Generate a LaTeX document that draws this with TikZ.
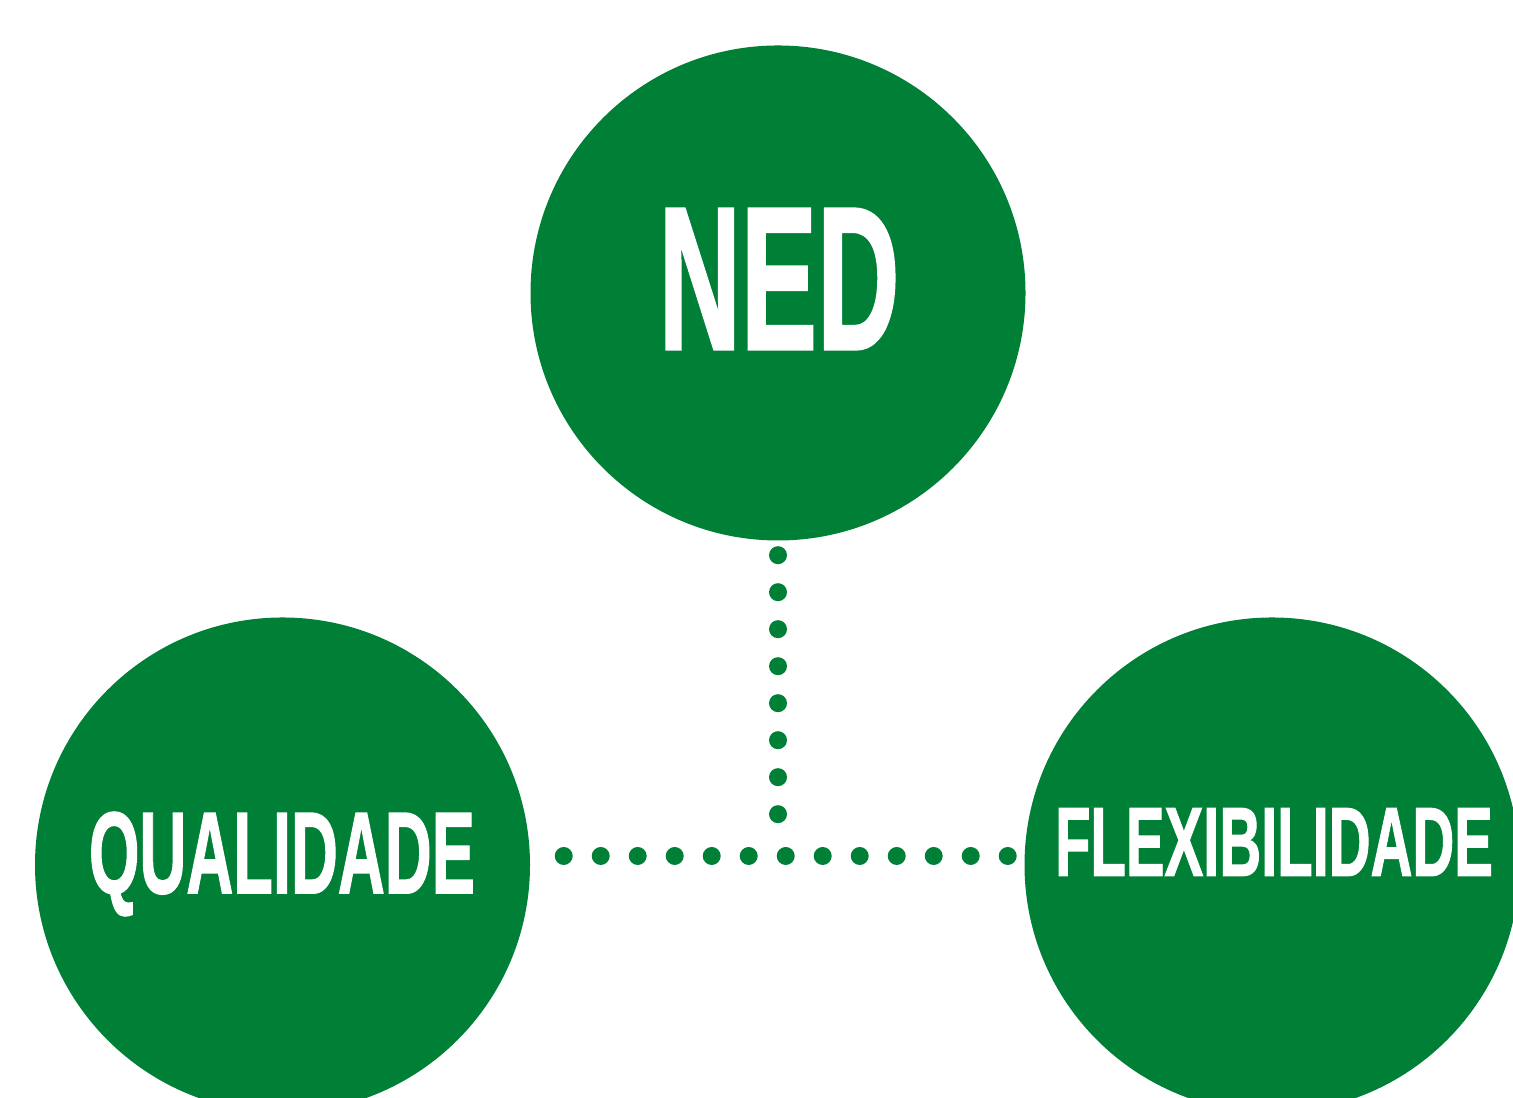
\documentclass[tikz,border=0pt]{standalone}
\usepackage{fontspec}
\setmainfont[BoldFeatures={FakeBold=1.5}]{Liberation Sans}
\definecolor{nedgreen}{HTML}{008037}
\newcommand{\cond}[2][0.56]{\scalebox{#1}[1]{#2}}
\begin{document}
\begin{tikzpicture}[
  main node/.style={circle,fill=nedgreen,minimum size=4.95cm,inner sep=0pt},
  word/.style={text=white,font=\bfseries,inner sep=0pt},
  dot line/.style={nedgreen,line width=0.18cm,line cap=round,dash pattern=on 0pt off 0.37cm}]

  \useasboundingbox (0,0) rectangle (15.13,10.98);
  \clip (0,0) rectangle (15.13,10.98);

  \node[main node] (ned) at (7.78,8.05) {};
  \node[main node] (qual) at (2.825,2.33) {};
  \node[main node] (flex) at (12.72,2.33) {};

  \node[word,font=\bfseries\fontsize{58pt}{58pt}\selectfont] (nedtext) at (7.79,8.19) {\cond{NED}};
  \node[word,font=\bfseries\fontsize{33pt}{33pt}\selectfont] (qualtext) at (2.82,2.34) {\cond{QUALIDADE}};
  \node[word,font=\bfseries\fontsize{27.8pt}{27.8pt}\selectfont] (flextext) at (12.74,2.56) {\cond[0.593]{FLEXIBILIDADE}};

  \coordinate (join) at (7.78,2.83);
  \draw[dot line] ([yshift=-0.14cm]ned.south) -- (join);
  \draw[dot line] ([shift={(0.33cm,0.09cm)}]qual.east) -- ([shift={(-0.14cm,0.09cm)}]flex.west);
\end{tikzpicture}
\end{document}
